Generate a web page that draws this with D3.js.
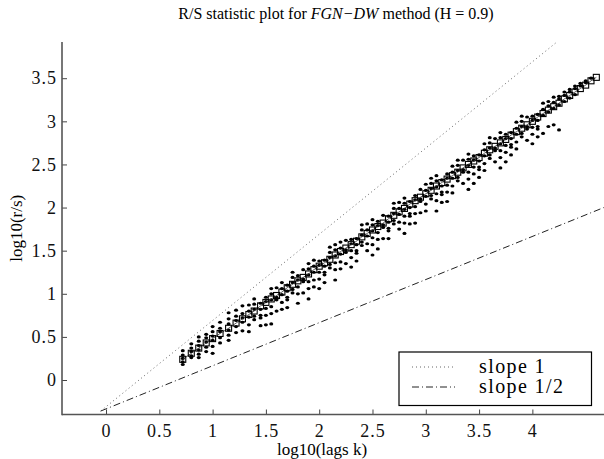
<!DOCTYPE html>
<html>
<head>
<meta charset="utf-8">
<script src="https://cdn.jsdelivr.net/npm/d3@7"></script>
<style>
  html, body { margin: 0; padding: 0; background: #fff; }
  svg { display: block; font-family: "Liberation Serif", "Times New Roman", serif; }
</style>
</head>
<body>
<div id="chart"></div>
<script>
// --- data ---
const logLags = [0.72, 0.80, 0.87, 0.94, 1.00, 1.07, 1.15, 1.22, 1.28, 1.34,
  1.39, 1.45, 1.50, 1.55, 1.60, 1.65, 1.70, 1.75, 1.80, 1.85,
  1.90, 1.95, 2.00, 2.05, 2.10, 2.15, 2.20, 2.25, 2.30, 2.35,
  2.40, 2.45, 2.50, 2.55, 2.60, 2.65, 2.70, 2.75, 2.80, 2.85,
  2.90, 2.95, 3.00, 3.05, 3.10, 3.15, 3.20, 3.25, 3.30, 3.35,
  3.40, 3.45, 3.50, 3.55, 3.60, 3.65, 3.70, 3.75, 3.80, 3.85,
  3.90, 3.95, 4.00, 4.05, 4.10, 4.15, 4.20, 4.25, 4.30, 4.35,
  4.40, 4.45, 4.50, 4.55, 4.60];

// square markers (one per lag)
const logRS = [0.24, 0.31, 0.37, 0.43, 0.48, 0.54, 0.60, 0.66, 0.71, 0.76,
  0.80, 0.86, 0.90, 0.94, 0.98, 1.02, 1.07, 1.11, 1.15, 1.19,
  1.23, 1.28, 1.32, 1.36, 1.40, 1.45, 1.49, 1.53, 1.57, 1.61,
  1.66, 1.70, 1.74, 1.78, 1.82, 1.87, 1.91, 1.95, 1.99, 2.04,
  2.08, 2.12, 2.16, 2.20, 2.25, 2.29, 2.33, 2.37, 2.41, 2.46,
  2.50, 2.54, 2.58, 2.63, 2.67, 2.71, 2.75, 2.79, 2.84, 2.88,
  2.92, 2.96, 3.00, 3.05, 3.09, 3.13, 3.17, 3.21, 3.26, 3.30,
  3.34, 3.38, 3.42, 3.47, 3.51];

// block R/S values, one list per lag (same order as logLags)
const blockRS = [
  [0.34, 0.29, 0.25, 0.21, 0.18],
  [0.42, 0.37, 0.33, 0.28, 0.26],
  [0.50, 0.45, 0.40, 0.35, 0.30, 0.26],
  [0.53, 0.49, 0.44, 0.38, 0.33],
  [0.62, 0.56, 0.51, 0.46, 0.39, 0.31],
  [0.67, 0.60, 0.56, 0.49, 0.43],
  [0.78, 0.71, 0.65, 0.58, 0.52, 0.46],
  [0.81, 0.74, 0.69, 0.62, 0.55],
  [0.86, 0.77, 0.72, 0.67, 0.57],
  [0.87, 0.80, 0.73, 0.64, 0.56],
  [0.94, 0.88, 0.82, 0.74, 0.70],
  [0.89, 0.82, 0.75, 0.72, 0.63],
  [0.96, 0.91, 0.83, 0.75, 0.64],
  [1.06, 1.00, 0.93, 0.85, 0.77, 0.65],
  [1.07, 0.96, 0.93, 0.80],
  [1.13, 1.06, 0.99, 0.90, 0.82],
  [1.10, 1.03, 0.96, 0.93, 0.84],
  [1.25, 1.19, 1.13, 1.05, 1.01],
  [1.21, 1.16, 1.08, 1.00, 0.89],
  [1.28, 1.17, 1.14, 1.01],
  [1.35, 1.29, 1.22, 1.14, 1.06, 0.94],
  [1.39, 1.32, 1.25, 1.16, 1.08],
  [1.38, 1.33, 1.25, 1.17, 1.06],
  [1.39, 1.32, 1.25, 1.22, 1.13],
  [1.54, 1.48, 1.42, 1.34, 1.30],
  [1.57, 1.51, 1.44, 1.36, 1.28, 1.16],
  [1.60, 1.53, 1.46, 1.37, 1.29],
  [1.62, 1.51, 1.48, 1.35],
  [1.63, 1.58, 1.50, 1.42, 1.31],
  [1.64, 1.57, 1.50, 1.47, 1.38],
  [1.80, 1.74, 1.68, 1.60, 1.56],
  [1.81, 1.74, 1.67, 1.58, 1.50],
  [1.86, 1.80, 1.73, 1.65, 1.57, 1.45],
  [1.84, 1.79, 1.71, 1.63, 1.52],
  [1.91, 1.80, 1.77, 1.64],
  [1.90, 1.83, 1.76, 1.73, 1.64],
  [2.05, 1.99, 1.93, 1.85, 1.81],
  [2.06, 1.99, 1.92, 1.83, 1.75],
  [2.11, 2.05, 1.98, 1.90, 1.82, 1.70],
  [2.07, 2.00, 1.93, 1.90, 1.81],
  [2.14, 2.09, 2.01, 1.93, 1.82],
  [2.21, 2.10, 2.07, 1.94],
  [2.27, 2.20, 2.13, 2.04, 1.96],
  [2.34, 2.28, 2.22, 2.14, 2.10],
  [2.37, 2.31, 2.24, 2.16, 2.08, 1.96],
  [2.32, 2.25, 2.18, 2.15, 2.06],
  [2.39, 2.34, 2.26, 2.18, 2.07],
  [2.48, 2.41, 2.34, 2.25, 2.17],
  [2.55, 2.49, 2.43, 2.35, 2.31],
  [2.55, 2.44, 2.41, 2.28],
  [2.62, 2.56, 2.49, 2.41, 2.33, 2.21],
  [2.60, 2.55, 2.47, 2.39, 2.28],
  [2.61, 2.54, 2.47, 2.44, 2.35],
  [2.74, 2.67, 2.60, 2.51, 2.43],
  [2.81, 2.75, 2.69, 2.61, 2.57],
  [2.80, 2.69, 2.66, 2.53],
  [2.87, 2.81, 2.74, 2.66, 2.58, 2.46],
  [2.85, 2.80, 2.72, 2.64, 2.53],
  [2.87, 2.80, 2.73, 2.70, 2.61],
  [2.99, 2.92, 2.85, 2.76, 2.68],
  [3.06, 3.00, 2.94, 2.86, 2.82],
  [3.05, 2.94, 2.91, 2.78],
  [3.06, 3.01, 2.93, 2.85, 2.74],
  [3.08, 3.01, 2.94, 2.91, 2.82],
  [3.21, 3.14, 3.07, 2.86],
  [3.23, 3.18, 3.11, 2.94],
  [3.28, 3.22, 3.15, 2.96],
  [3.29, 3.26, 3.19, 2.90],
  [3.34, 3.30, 3.23],
  [3.37, 3.34, 3.27],
  [3.41, 3.38, 3.31],
  [3.44, 3.41],
  [3.47, 3.45],
  [3.50],
  []
];

// reference lines: common start point and the two slopes
const refStart = [-0.05, -0.36];
const refEndX = 4.67;
const refLines = [
  { label: "slope 1",   slope: 1,   dash: "1,3",     color: "#666" },
  { label: "slope 1/2", slope: 0.5, dash: "7,3,1,3", color: "#222" }
];

const xTicks = [0, 0.5, 1, 1.5, 2, 2.5, 3, 3.5, 4];
const yTicks = [0, 0.5, 1, 1.5, 2, 2.5, 3, 3.5];

// --- canvas ---
const width = 604, height = 459;
const plot = { left: 62, right: 604, top: 42, bottom: 414.5 };

const svg = d3.select("#chart").append("svg")
  .attr("width", width)
  .attr("height", height)
  .style("background", "#fff");

const x = d3.scaleLinear().domain([-0.413, 4.672]).range([plot.left, plot.right]);
const y = d3.scaleLinear().domain([-0.4, 3.92]).range([plot.bottom, plot.top]);

svg.append("clipPath").attr("id", "clip")
  .append("rect")
  .attr("x", plot.left).attr("y", plot.top)
  .attr("width", plot.right - plot.left).attr("height", plot.bottom - plot.top);

const body = svg.append("g").attr("clip-path", "url(#clip)");

// reference lines
refLines.forEach(r => {
  body.append("line")
    .attr("x1", x(refStart[0])).attr("y1", y(refStart[1]))
    .attr("x2", x(refEndX)).attr("y2", y(refStart[1] + r.slope * (refEndX - refStart[0])))
    .attr("stroke", r.color)
    .attr("stroke-width", 1)
    .attr("stroke-dasharray", r.dash);
});

// block R/S dots
const dots = [];
blockRS.forEach((vals, i) => vals.forEach(v => dots.push([logLags[i], v])));

body.append("g")
  .selectAll("ellipse")
  .data(dots)
  .join("ellipse")
    .attr("cx", d => x(d[0]))
    .attr("cy", d => y(d[1]))
    .attr("rx", 2)
    .attr("ry", 1.6)
    .attr("fill", "#000");

// line through the squares
const sq = logLags.map((v, i) => [v, logRS[i]]);
body.append("path")
  .datum(sq)
  .attr("fill", "none")
  .attr("stroke", "#333")
  .attr("stroke-width", 0.8)
  .attr("d", d3.line().x(d => x(d[0])).y(d => y(d[1])));

// square markers
body.append("g")
  .selectAll("rect")
  .data(sq)
  .join("rect")
    .attr("x", d => x(d[0]) - 3)
    .attr("y", d => y(d[1]) - 3)
    .attr("width", 6)
    .attr("height", 6)
    .attr("fill", "none")
    .attr("stroke", "#000")
    .attr("stroke-width", 1.1);

// --- axes (matlab style: ticks inside, no box) ---
const xAxis = d3.axisBottom(x).tickValues(xTicks).tickSize(-5).tickPadding(10).tickFormat(d3.format("~g"));
const yAxis = d3.axisLeft(y).tickValues(yTicks).tickSize(-5).tickPadding(5).tickFormat(d3.format("~g"));

const gx = svg.append("g").attr("transform", `translate(0,${plot.bottom})`).call(xAxis);
const gy = svg.append("g").attr("transform", `translate(${plot.left},0)`).call(yAxis);

[gx, gy].forEach(g => {
  g.select(".domain").remove();
  g.selectAll(".tick line").attr("stroke", "#444").attr("stroke-width", 1);
  g.selectAll(".tick text")
    .attr("fill", "#111")
    .style("font-size", "18px")
    .style("letter-spacing", "1px")
    .style("font-family", "'Liberation Serif', serif");
});

svg.append("line")
  .attr("x1", plot.left).attr("x2", plot.right)
  .attr("y1", plot.bottom).attr("y2", plot.bottom)
  .attr("stroke", "#555").attr("stroke-width", 1.6);
svg.append("line")
  .attr("x1", plot.left).attr("x2", plot.left)
  .attr("y1", plot.top).attr("y2", plot.bottom + 0.8)
  .attr("stroke", "#555").attr("stroke-width", 1.6);

// --- labels ---
svg.append("text")
  .attr("x", 322).attr("y", 455)
  .attr("text-anchor", "middle")
  .style("font-size", "17px")
  .text("log10(lags k)");

svg.append("text")
  .attr("transform", `translate(22,${(plot.top + plot.bottom) / 2}) rotate(-90)`)
  .attr("text-anchor", "middle")
  .style("font-size", "17px")
  .text("log10(r/s)");

const title = svg.append("text")
  .attr("x", 336).attr("y", 19)
  .attr("text-anchor", "middle")
  .style("font-size", "16px");
title.append("tspan").text("R/S statistic plot for  ");
title.append("tspan").style("font-style", "italic").text("FGN\u2212DW");
title.append("tspan").text(" method (H = 0.9)");

// --- legend ---
const legend = svg.append("g");
legend.append("rect")
  .attr("x", 399).attr("y", 352)
  .attr("width", 192.5).attr("height", 53.5)
  .attr("fill", "#fff")
  .attr("stroke", "#000")
  .attr("stroke-width", 1.2);

refLines.forEach((r, i) => {
  const ly = 367 + i * 20;
  legend.append("line")
    .attr("x1", 412).attr("x2", 455)
    .attr("y1", ly).attr("y2", ly)
    .attr("stroke", r.color)
    .attr("stroke-width", 1)
    .attr("stroke-dasharray", r.dash);
  legend.append("text")
    .attr("x", 479).attr("y", ly + 6)
    .style("font-size", "20px")
    .style("letter-spacing", "1.4px")
    .text(r.label);
});
</script>
</body>
</html>
